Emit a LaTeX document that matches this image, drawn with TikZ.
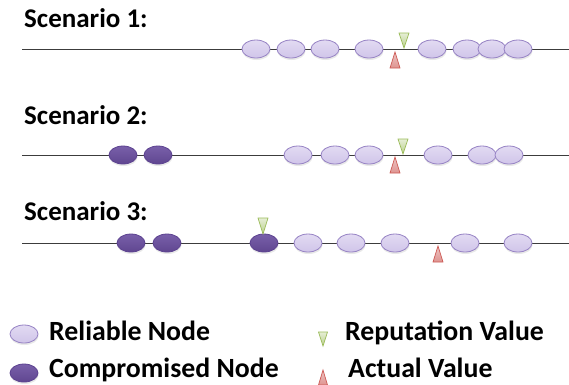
\documentclass[tikz,border=0pt]{standalone}
\usepackage{fontspec}
\setmainfont{Carlito}
\usetikzlibrary{shapes.geometric,shadows}
\definecolor{relfill}{RGB}{216,206,238}
\definecolor{reldraw}{RGB}{150,130,196}
\definecolor{compfill}{RGB}{106,78,160}
\definecolor{compdraw}{RGB}{92,66,144}
\definecolor{repdraw}{RGB}{155,187,89}
\definecolor{actdraw}{RGB}{205,90,85}
\definecolor{linegray}{RGB}{60,60,60}

\tikzset{
    title/.style={anchor=base west, inner sep=0pt, font=\bfseries\fontsize{27}{32}\selectfont},
    legtext/.style={anchor=base west, inner sep=0pt, font=\bfseries\fontsize{27.8}{33}\selectfont},
    timeline/.style={draw=linegray, line width=0.9pt},
    reliable/.style={ellipse, minimum width=28pt, minimum height=18pt, inner sep=0pt,
        draw=reldraw, line width=0.8pt, top color=relfill!75!white, bottom color=relfill!88!reldraw,
        drop shadow={opacity=0.18, shadow xshift=0.5pt, shadow yshift=-2pt}},
    compromised/.style={ellipse, minimum width=28pt, minimum height=18pt, inner sep=0pt,
        draw=compdraw, line width=0.8pt, top color=compfill!90!white, bottom color=compfill!90!black,
        drop shadow={opacity=0.18, shadow xshift=0.5pt, shadow yshift=-2pt}},
    repval/.style={draw=repdraw, line width=0.7pt, top color=repdraw!25!white, bottom color=repdraw!70!white},
    actval/.style={draw=actdraw, line width=0.7pt, top color=actdraw!35!white, bottom color=actdraw!65!white},
}

\begin{document}
\begin{tikzpicture}[x=1pt, y=-1pt]
    \useasboundingbox[fill=white] (0,0) rectangle (569,384);

    % Scenario 1
    \node[title] (t1) at (24,27) {Scenario 1:};
    \coordinate (s1l) at (22,49);
    \coordinate (s1r) at (569,49);
    \draw[timeline] (s1l) -- (s1r);
    \foreach \x [count=\i] in {256,291,325,369,432,467,492,518}
        \node[reliable] (s1n\i) at (\x,49) {};
    \coordinate (rep1) at (404,48);
    \coordinate (act1) at (395,52);
    \draw[repval] (rep1) -- ++(-5,-15) -- ++(10,0) -- cycle;
    \draw[actval] (act1) -- ++(-5,16) -- ++(10,0) -- cycle;

    % Scenario 2
    \node[title] (t2) at (24,124) {Scenario 2:};
    \coordinate (s2l) at (22,155);
    \coordinate (s2r) at (569,155);
    \draw[timeline] (s2l) -- (s2r);
    \foreach \x [count=\i] in {123,158}
        \node[compromised] (s2c\i) at (\x,155) {};
    \foreach \x [count=\i] in {298,335,369,438,482,509}
        \node[reliable] (s2n\i) at (\x,155) {};
    \coordinate (rep2) at (403,154);
    \coordinate (act2) at (395,157);
    \draw[repval] (rep2) -- ++(-5,-15) -- ++(10,0) -- cycle;
    \draw[actval] (act2) -- ++(-5,16) -- ++(10,0) -- cycle;

    % Scenario 3
    \node[title] (t3) at (24,220) {Scenario 3:};
    \coordinate (s3l) at (22,243);
    \coordinate (s3r) at (569,243);
    \draw[timeline] (s3l) -- (s3r);
    \foreach \x [count=\i] in {131,167,264}
        \node[compromised] (s3c\i) at (\x,243) {};
    \foreach \x [count=\i] in {308,351,395,465,518}
        \node[reliable] (s3n\i) at (\x,243) {};
    \coordinate (rep3) at (263,234);
    \coordinate (act3) at (438,246);
    \draw[repval] (rep3) -- ++(-5,-16) -- ++(10,0) -- cycle;
    \draw[actval] (act3) -- ++(-5,16) -- ++(10,0) -- cycle;

    % legend
    \node[reliable] (legrel) at (24,334) {};
    \node[legtext] (legreltext) at (49,340) {Reliable Node};
    \node[compromised] (legcomp) at (24,373) {};
    \node[legtext] (legcomptext) at (49,377) {Compromised Node};
    \coordinate (legrep) at (323,346);
    \draw[repval] (legrep) -- ++(-4.5,-14) -- ++(9,0) -- cycle;
    \node[legtext] (legreptext) at (345,340) {Reputation Value};
    \coordinate (legact) at (323,370);
    \draw[actval] (legact) -- ++(-4.5,15) -- ++(9,0) -- cycle;
    \node[legtext] (legacttext) at (348,377) {Actual Value};
\end{tikzpicture}
\end{document}
